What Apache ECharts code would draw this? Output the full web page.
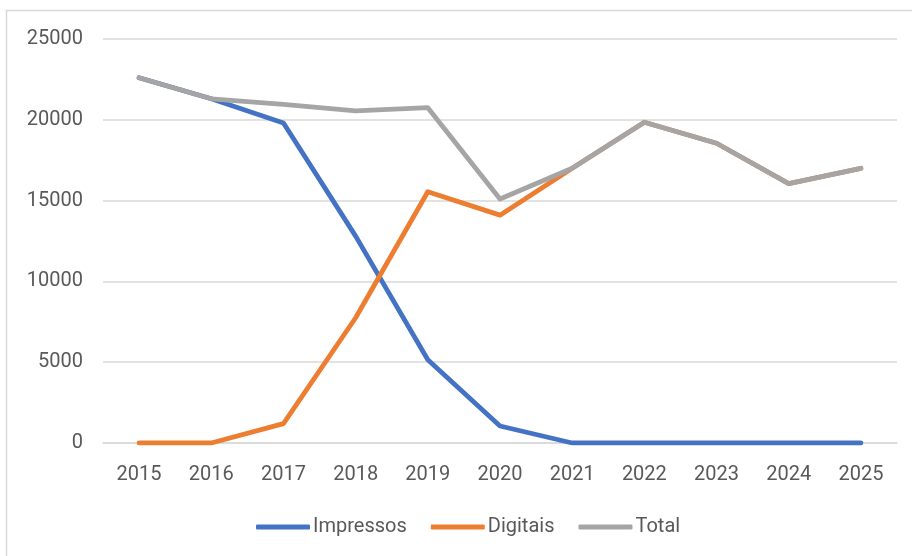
<!DOCTYPE html>
<html>
<head>
<meta charset="utf-8">
<script src="https://cdn.jsdelivr.net/npm/echarts@6/dist/echarts.min.js"></script>
<style>html,body{margin:0;padding:0;background:#fff}#c{width:912px;height:556px}</style>
</head>
<body>
<div id="c"></div>
<script>
var years = ['2015','2016','2017','2018','2019','2020','2021','2022','2023','2024','2025'];
var impressos = [22600, 21300, 19800, 12800, 5150, 1050, 0, 0, 0, 0, 0];
var digitais  = [0, 0, 1200, 7750, 15550, 14100, 17000, 19850, 18550, 16050, 17000];
var total     = [22600, 21300, 20950, 20550, 20750, 15100, 17000, 19850, 18550, 16050, 17000];
var yTicks = [0, 5000, 10000, 15000, 20000, 25000];

var font = 'Roboto';
var chart = echarts.init(document.getElementById('c'), null, {renderer: 'canvas'});
function mk(name, data, color) {
  return {
    name: name, type: 'line', data: data, symbol: 'none', smooth: false,
    lineStyle: {color: color, width: 4.8, cap: 'round', join: 'round'},
    itemStyle: {color: color},
    emphasis: {disabled: true}
  };
}
chart.setOption({
  animation: false,
  backgroundColor: '#fff',
  graphic: [{
    type: 'rect', silent: true,
    shape: {x: 6.5, y: 10.5, width: 1000, height: 1000},
    style: {fill: 'none', stroke: '#d9d9d9', lineWidth: 1.5}
  }],
  grid: {left: 103, right: 15, top: 39, bottom: 113, containLabel: false},
  legend: {
    data: ['Impressos', 'Digitais', 'Total'],
    left: 251, top: 512,
    icon: 'roundRect', itemWidth: 54, itemHeight: 5, itemGap: 24,
    textStyle: {fontFamily: font, fontSize: 20, color: '#595959', padding: [0, 0, 0, -2]}
  },
  xAxis: {
    type: 'category', data: years, boundaryGap: true,
    axisLine: {lineStyle: {color: '#d9d9d9', width: 1.5}},
    axisTick: {show: false},
    axisLabel: {fontFamily: font, fontSize: 20, color: '#595959', margin: 22}
  },
  yAxis: {
    type: 'value', min: yTicks[0], max: yTicks[yTicks.length - 1], interval: 5000,
    axisLine: {show: false}, axisTick: {show: false},
    splitLine: {lineStyle: {color: '#d9d9d9', width: 1.5}},
    axisLabel: {fontFamily: font, fontSize: 20, color: '#595959', margin: 20,
      formatter: function (v) { return String(v); }}
  },
  series: [
    mk('Impressos', impressos, '#4472C4'),
    mk('Digitais', digitais, '#ED7D31'),
    mk('Total', total, '#A5A5A5')
  ]
});
</script>
</body>
</html>
